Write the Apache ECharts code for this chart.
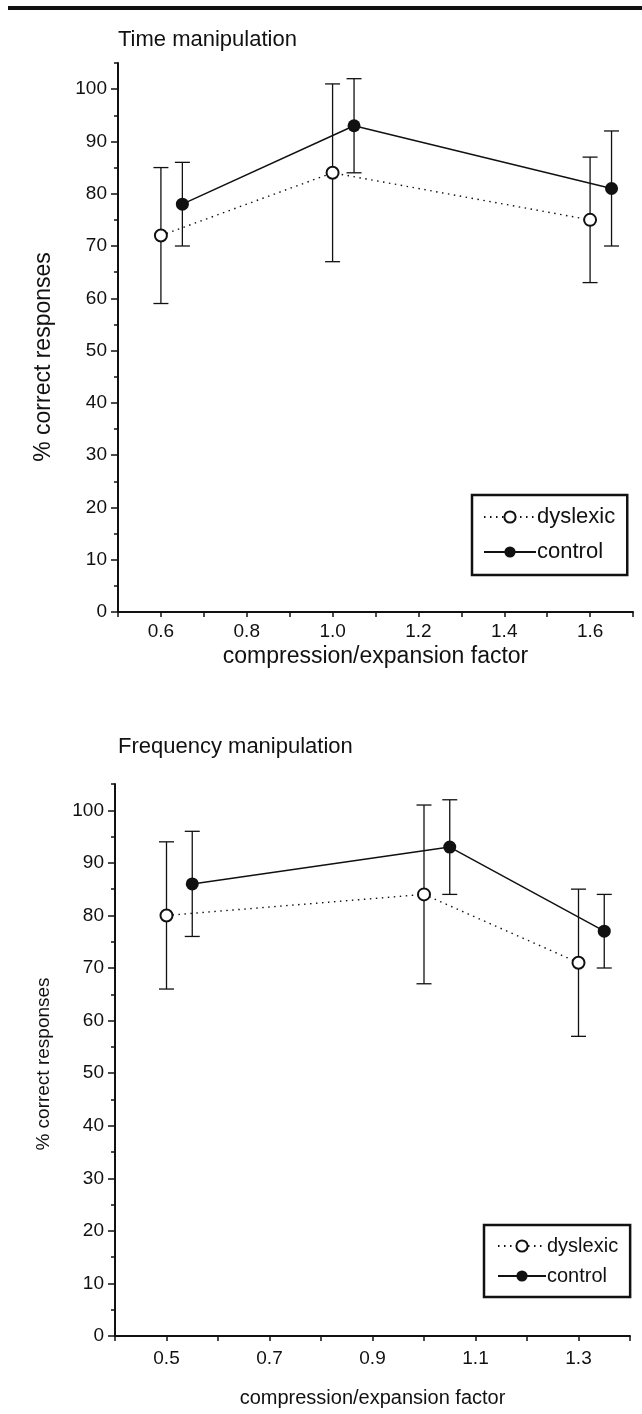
<!DOCTYPE html>
<html>
<head>
<meta charset="utf-8">
<style>
  html, body { margin: 0; padding: 0; background: #fff; }
  #chart { width: 642px; height: 1414px; }
</style>
<script src="https://cdn.jsdelivr.net/npm/echarts@6/dist/echarts.min.js"></script>
</head>
<body>
<div id="chart"></div>
<script>
// Time manipulation: mean % correct with error-bar limits
const timeDysX = [0.6, 1.0, 1.6];
const timeDysMean = [72, 84, 75];
const timeDysLow = [59, 67, 63];
const timeDysHigh = [85, 101, 87];
const timeCtlX = [0.65, 1.05, 1.65];
const timeCtlMean = [78, 93, 81];
const timeCtlLow = [70, 84, 70];
const timeCtlHigh = [86, 102, 92];

// Frequency manipulation
const freqDysX = [0.5, 1.0, 1.3];
const freqDysMean = [80, 84, 71];
const freqDysLow = [66, 67, 57];
const freqDysHigh = [94, 101, 85];
const freqCtlX = [0.55, 1.05, 1.35];
const freqCtlMean = [86, 93, 77];
const freqCtlLow = [76, 84, 70];
const freqCtlHigh = [96, 102, 84];

// Tick labels
const timeXTicks = [0.6, 0.8, 1.0, 1.2, 1.4, 1.6];
const freqXTicks = [0.5, 0.7, 0.9, 1.1, 1.3];
const yMajorTicks = [0, 10, 20, 30, 40, 50, 60, 70, 80, 90, 100];
const yMinorTicks = [5, 15, 25, 35, 45, 55, 65, 75, 85, 95, 105];

const FONT = "'Liberation Sans', Arial, Helvetica, sans-serif";
const INK = '#111';

const chart = echarts.init(document.getElementById('chart'), null, { renderer: 'canvas' });

function pairs(xs, ys) { return xs.map((x, i) => [x, ys[i]]); }
function bars(xs, lo, hi) { return xs.map((x, i) => [x, lo[i], hi[i]]); }

function errorBarSeries(name, gridIdx, data) {
  return {
    type: 'custom',
    name: name,
    xAxisIndex: gridIdx,
    yAxisIndex: gridIdx * 2,
    z: 1,
    silent: true,
    data: data,
    renderItem: function (params, api) {
      const x = api.value(0);
      const top = api.coord([x, api.value(2)]);
      const bot = api.coord([x, api.value(1)]);
      const cap = 7.5;
      const st = { stroke: INK, lineWidth: 1.3 };
      return {
        type: 'group',
        children: [
          { type: 'line', shape: { x1: top[0], y1: top[1], x2: bot[0], y2: bot[1] }, style: st },
          { type: 'line', shape: { x1: top[0] - cap, y1: top[1], x2: top[0] + cap, y2: top[1] }, style: st },
          { type: 'line', shape: { x1: bot[0] - cap, y1: bot[1], x2: bot[0] + cap, y2: bot[1] }, style: st }
        ]
      };
    }
  };
}

function dysSeries(gridIdx, data) {
  return {
    type: 'line', name: 'dyslexic', xAxisIndex: gridIdx, yAxisIndex: gridIdx * 2, z: 3,
    data: data, symbol: 'circle', symbolSize: 12,
    itemStyle: { color: '#fff', borderColor: INK, borderWidth: 2 },
    lineStyle: { color: INK, width: 1.4, type: [1.5, 4.5] },
    emphasis: { disabled: true }
  };
}
function ctlSeries(gridIdx, data) {
  return {
    type: 'line', name: 'control', xAxisIndex: gridIdx, yAxisIndex: gridIdx * 2, z: 3,
    data: data, symbol: 'circle', symbolSize: 13,
    itemStyle: { color: INK, borderColor: INK, borderWidth: 0 },
    lineStyle: { color: INK, width: 1.5, type: 'solid' },
    emphasis: { disabled: true }
  };
}

function xAxisDef(gridIdx, min, max, labels, labelSize, labelMargin, name, nameSize, nameGap) {
  return {
    type: 'value', gridIndex: gridIdx, min: min, max: max, interval: 0.1,
    axisLine: { show: true, onZero: false, lineStyle: { color: INK, width: 2 } },
    axisTick: { show: true, length: 5, lineStyle: { color: INK, width: 1.5 } },
    axisLabel: {
      customValues: labels, margin: labelMargin, color: INK, fontFamily: FONT, fontSize: labelSize,
      formatter: v => v.toFixed(1)
    },
    splitLine: { show: false },
    name: name, nameLocation: 'middle', nameGap: nameGap,
    nameTextStyle: { color: INK, fontFamily: FONT, fontSize: nameSize }
  };
}
function yAxesDef(gridIdx, labelSize) {
  return [
    {
      type: 'value', gridIndex: gridIdx, position: 'left', min: 0, max: 105, interval: 5,
      axisLine: { show: true, onZero: false, lineStyle: { color: INK, width: 2 } },
      axisTick: { show: true, customValues: yMajorTicks, length: 7, lineStyle: { color: INK, width: 1.5 } },
      axisLabel: { customValues: yMajorTicks, margin: 11, color: INK, fontFamily: FONT, fontSize: labelSize },
      splitLine: { show: false }
    },
    {
      type: 'value', gridIndex: gridIdx, position: 'left', offset: 0, min: 0, max: 105, interval: 5,
      axisLine: { show: false },
      axisTick: { show: true, customValues: yMinorTicks, length: 4, lineStyle: { color: INK, width: 1.5 } },
      axisLabel: { show: false },
      splitLine: { show: false }
    }
  ];
}

function legendDef(left, top, fontSize, itemWidth, gap, pad) {
  return {
    data: ['dyslexic', 'control'],
    orient: 'vertical', left: left, top: top,
    itemWidth: itemWidth, itemHeight: 14, itemGap: gap,
    padding: pad,
    borderColor: INK, borderWidth: 2.5, borderRadius: 0,
    backgroundColor: '#fff',
    selectedMode: false,
    textStyle: { color: INK, fontFamily: FONT, fontSize: fontSize, padding: [0, 0, 0, -4] }
  };
}

function yTitle(x, y, size) {
  return {
    type: 'text', x: x, y: y, rotation: Math.PI / 2,
    style: {
      text: '% correct responses', fill: INK, font: size + 'px ' + FONT,
      align: 'center', verticalAlign: 'middle'
    }
  };
}

const option = {
  animation: false,
  backgroundColor: '#fff',
  title: [
    { text: 'Time manipulation', left: 113, top: 24,
      textStyle: { color: INK, fontFamily: FONT, fontSize: 22, fontWeight: 'normal' } },
    { text: 'Frequency manipulation', left: 113, top: 731,
      textStyle: { color: INK, fontFamily: FONT, fontSize: 22, fontWeight: 'normal' } }
  ],
  graphic: [
    { type: 'rect', left: 8, top: 6, shape: { width: 634, height: 4 }, style: { fill: INK } },
    yTitle(44, 357, 23),
    yTitle(44, 1064, 19)
  ],
  grid: [
    { left: 118, right: 9, top: 63, height: 549 },
    { left: 115, right: 12, top: 784, height: 552 }
  ],
  xAxis: [
    xAxisDef(0, 0.5, 1.7, timeXTicks, 19, 10, 'compression/expansion factor', 23, 33),
    xAxisDef(1, 0.4, 1.4, freqXTicks, 19, 13, 'compression/expansion factor', 20, 52)
  ],
  yAxis: [].concat(yAxesDef(0, 19), yAxesDef(1, 19)),
  legend: [
    legendDef(472, 495, 22, 52, 13, [11, 12, 12, 11]),
    legendDef(484, 1225, 20, 48, 10, [11, 12, 11, 13])
  ],
  series: [
    errorBarSeries('dyslexic range (time)', 0, bars(timeDysX, timeDysLow, timeDysHigh)),
    errorBarSeries('control range (time)', 0, bars(timeCtlX, timeCtlLow, timeCtlHigh)),
    dysSeries(0, pairs(timeDysX, timeDysMean)),
    ctlSeries(0, pairs(timeCtlX, timeCtlMean)),
    errorBarSeries('dyslexic range (frequency)', 1, bars(freqDysX, freqDysLow, freqDysHigh)),
    errorBarSeries('control range (frequency)', 1, bars(freqCtlX, freqCtlLow, freqCtlHigh)),
    dysSeries(1, pairs(freqDysX, freqDysMean)),
    ctlSeries(1, pairs(freqCtlX, freqCtlMean))
  ]
};

chart.setOption(option);
</script>
</body>
</html>
